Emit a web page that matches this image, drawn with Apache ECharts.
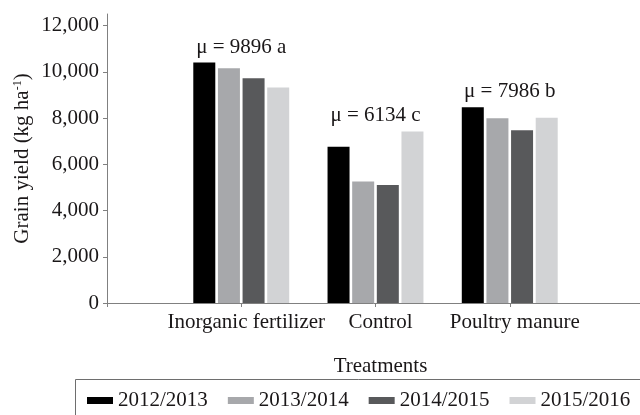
<!DOCTYPE html>
<html>
<head>
<meta charset="utf-8">
<script src="https://cdn.jsdelivr.net/npm/echarts@6/dist/echarts.min.js"></script>
<style>
  html, body { margin: 0; padding: 0; background: #fff; }
  #chart { width: 640px; height: 415px; }
</style>
</head>
<body>
<div id="chart"></div>
<script>
// treatments on the x axis
const treatments = ['Inorganic fertilizer', 'Control', 'Poultry manure'];
// seasons (legend)
const seasons = ['2012/2013', '2013/2014', '2014/2015', '2015/2016'];
// grain yield per season, one value per treatment (kg/ha)
const yield2012 = [10400, 6760, 8470];
const yield2013 = [10150, 5260, 7990];
const yield2014 = [9720, 5100, 7470];
const yield2015 = [9320, 7420, 8010];
// mean and letter written above each group
const means = [9896, 6134, 7986];
const letters = ['a', 'c', 'b'];
// y axis tick labels
const yTicks = [0, 2000, 4000, 6000, 8000, 10000, 12000];

const colors = ['#000000', '#a7a8ab', '#58595b', '#d2d3d5'];
const font = "'Liberation Serif', 'Times New Roman', serif";
const textColor = '#1a1718';
const axisColor = '#808080';

// bars sit on the category points, with an empty slot at each end
const axisCats = [''].concat(treatments, ['']);
const pad = arr => ['-'].concat(arr, ['-']);

const seriesValues = [yield2012, yield2013, yield2014, yield2015];

const barSeries = seasons.map((name, i) => ({
  name: name,
  type: 'bar',
  data: pad(seriesValues[i]),
  barWidth: 22,
  barGap: '12%',
  itemStyle: { color: colors[i] },
  emphasis: { disabled: true }
}));

// label for each group: put above the tallest bar
const groupTops = treatments.map((t, k) => Math.max(...seriesValues.map(s => s[k])));
const meanSeries = {
  type: 'scatter',
  data: groupTops.map((v, k) => [k + 1, v]),
  symbolSize: 0,
  itemStyle: { color: textColor, opacity: 1 },
  label: {
    show: true,
    position: 'top',
    distance: 5,
    fontFamily: font,
    fontSize: 21,
    color: textColor,
    opacity: 1,
    formatter: p => 'μ = ' + means[p.dataIndex] + ' ' + letters[p.dataIndex]
  },
  emphasis: { disabled: true },
  silent: true
};

const chart = echarts.init(document.getElementById('chart'));

const option = {
  animation: false,
  backgroundColor: '#fff',
  grid: {
    left: 107,
    right: -4,
    top: 14,
    bottom: 112,
    outerBoundsMode: 'none',
    containLabel: false
  },
  legend: {
    data: seasons,
    left: 87,
    top: 390,
    padding: 0,
    itemWidth: 26,
    itemHeight: 7,
    itemGap: 20,
    icon: 'rect',
    textStyle: { fontFamily: font, fontSize: 21, color: textColor }
  },
  xAxis: {
    type: 'category',
    data: axisCats,
    boundaryGap: false,
    name: 'Treatments',
    nameLocation: 'middle',
    nameGap: 53,
    nameMoveOverlap: false,
    nameTextStyle: { fontFamily: font, fontSize: 21, color: textColor, padding: [0, 0, 0, 10] },
    axisLine: { lineStyle: { color: axisColor, width: 1 } },
    axisTick: { show: true, length: 4, lineStyle: { color: axisColor } },
    axisLabel: {
      interval: 0,
      margin: 9,
      fontFamily: font,
      fontSize: 21,
      color: textColor,
      padding: [0, 0, 0, 10]
    },
    splitLine: { show: false }
  },
  yAxis: {
    type: 'value',
    min: 0,
    max: 12500,
    interval: 2000,
    name: 'Grain yield (kg ha{sup|-1})',
    nameLocation: 'middle',
    nameGap: 74,
    nameMoveOverlap: false,
    nameTextStyle: {
      fontFamily: font,
      fontSize: 21,
      color: textColor,
      rich: {
        sup: { fontFamily: font, fontSize: 12, color: textColor, verticalAlign: 'top' }
      }
    },
    axisLine: { show: true, lineStyle: { color: axisColor, width: 1 } },
    axisTick: { show: true, length: 4, customValues: yTicks, lineStyle: { color: axisColor } },
    axisLabel: {
      customValues: yTicks,
      margin: 8,
      fontFamily: font,
      fontSize: 21,
      color: textColor,
      formatter: v => v.toLocaleString('en-US')
    },
    splitLine: { show: false }
  },
  graphic: [{
    type: 'rect',
    silent: true,
    shape: { x: 75.5, y: 379.5, width: 640, height: 100 },
    style: { fill: 'none', stroke: '#6e6e6e', lineWidth: 1 }
  }],
  series: barSeries.concat([meanSeries])
};

chart.setOption(option);
</script>
</body>
</html>
